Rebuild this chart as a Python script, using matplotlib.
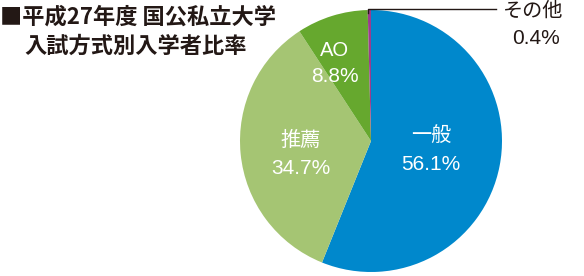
import matplotlib
matplotlib.use('Agg')
import matplotlib.pyplot as plt

plt.rcParams['font.family'] = ['Noto Sans CJK JP', 'DejaVu Sans']
num_font = ['Liberation Sans', 'Noto Sans CJK JP']

# 入試方式別入学者比率（平成27年度）
labels = ['一般', '推薦', 'AO', 'その他']
shares = [56.1, 34.7, 8.8, 0.4]
colors = ['#0088CC', '#A5C573', '#66A82E', '#9B3C8E']
ink = '#231815'

W, H = 584, 276
fig = plt.figure(figsize=(W / 100, H / 100), dpi=100)

# pie: centre (371,141) px, radius 131 px
cx, cy, r = 371, 141, 131
ax = fig.add_axes([(cx - r) / W, (H - cy - r) / H, 2 * r / W, 2 * r / H])
ax.pie(shares, colors=colors, startangle=90, counterclock=False,
       radius=1, wedgeprops=dict(linewidth=0))
ax.set_xlim(-1, 1)
ax.set_ylim(-1, 1)
ax.set_aspect('equal')
ax.axis('off')

def px(x, y):
    return (x - cx) / r, (cy - y) / r

# slice labels
inside = [((431, 135), (431, 164)), ((301, 140), (301, 169)), ((335, 50), (335, 76))]
for (p1, p2), lab, val in zip(inside, labels[:3], shares[:3]):
    fam = num_font if lab == 'AO' else None
    ax.text(*px(*p1), lab, color='white', fontsize=14.5, ha='center', va='center',
            family=fam)
    ax.text(*px(*p2), f'{val}%', color='white', fontsize=15, ha='center', va='center',
            family=num_font)

# その他 leader line
x0, y0 = px(368, 13)
x1, y1 = px(368, 9)
x2, y2 = px(496, 9)
ax.plot([x0, x1, x2], [y0, y1, y2], color=ink, lw=1, clip_on=False)
ax.text(*px(533, 11), labels[3], color=ink, fontsize=14.5, ha='center', va='center', clip_on=False)
ax.text(*px(536, 39), f'{shares[3]}%', color=ink, fontsize=15, ha='center', va='center',
        clip_on=False, family=num_font)

# title
fig.text(0.0, 1 - 17 / H, '■平成27年度 国公私立大学', color=ink, fontsize=16,
         fontweight='bold', ha='left', va='center')
fig.text(24 / W, 1 - 46 / H, '入試方式別入学者比率', color=ink, fontsize=16,
         fontweight='bold', ha='left', va='center')

fig.savefig('out.png', dpi=100)
